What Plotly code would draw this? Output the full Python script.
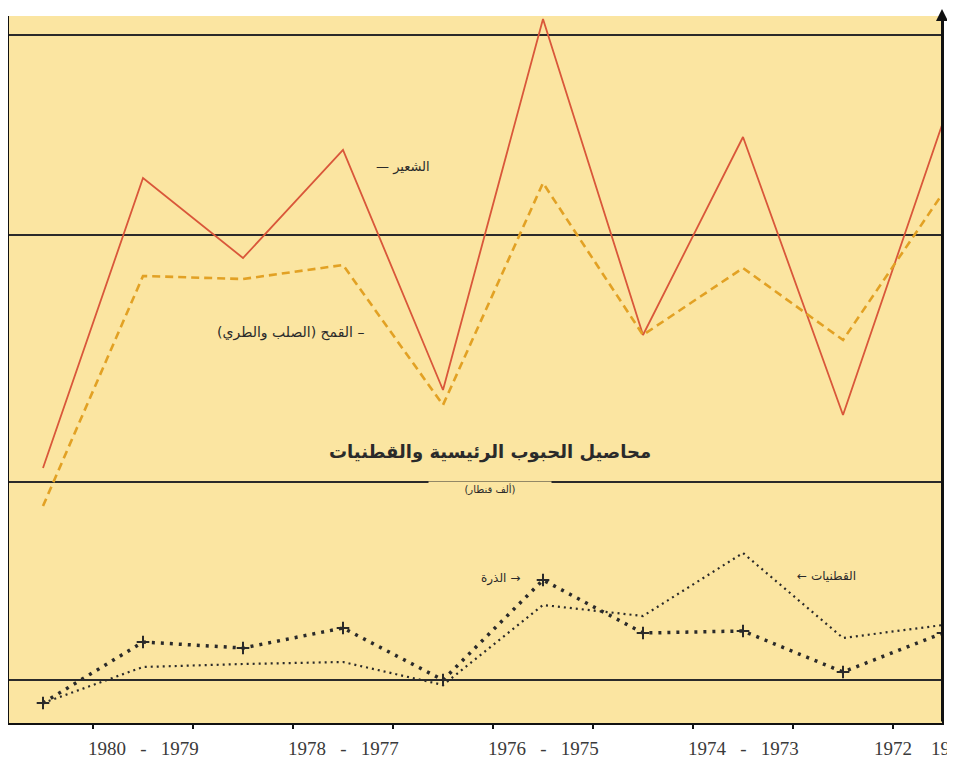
import plotly.graph_objects as go

# seasons, read right-to-left on the printed chart
SEASONS = ["1980-81", "1979-80", "1978-79", "1977-78", "1976-77",
           "1975-76", "1974-75", "1973-74", "1972-73", "1971-72"]
X = list(range(len(SEASONS)))

# production (thousand qintar, unlabelled scale)
BARLEY = [255, 545, 465, 573, 333, 704, 388, 586, 308, 601]
WHEAT = [217, 447, 444, 458, 318, 540, 388, 455, 383, 530]
CORN = [20, 81, 75, 95, 43, 143, 90, 92, 51, 90]
COTTON = [20, 56, 59, 61, 38, 118, 107, 170, 85, 98]

GRID_Y = [43, 241, 488, 688]
TICK_X = [0.5, 1.5, 2.5, 3.5, 4.5, 5.5, 6.5, 7.5, 8.5]
LABEL_X = [1, 3, 5, 7, 8.5]
SP = "\u00a0" * 3
LABEL_TEXT = [f"1980{SP}-{SP}1979", f"1978{SP}-{SP}1977", f"1976{SP}-{SP}1975",
              f"1974{SP}-{SP}1973", "1972"]

BG = "#FBE5A1"
INK = "#2a2a2a"
COL_BARLEY = "#D9573A"
COL_WHEAT = "#E2A124"
AR_FONT = "DejaVu Sans"
TICK_FONT = dict(family="Liberation Serif", size=19, color="#3a3a3a")

fig = go.Figure()
fig.add_trace(go.Scatter(x=X, y=BARLEY, mode="lines", name="الشعير",
                         line=dict(color=COL_BARLEY, width=1.8)))
fig.add_trace(go.Scatter(x=X, y=WHEAT, mode="lines", name="القمح",
                         line=dict(color=COL_WHEAT, width=2.6, dash="8px,5px")))
fig.add_trace(go.Scatter(x=X, y=COTTON, mode="lines", name="القطنيات",
                         line=dict(color=INK, width=2.2, dash="2px,4px")))
fig.add_trace(go.Scatter(x=X, y=CORN, mode="lines+markers", name="الذرة",
                         line=dict(color=INK, width=3.5, dash="3px,6px"),
                         marker=dict(symbol="cross-thin", size=9,
                                     line=dict(color=INK, width=2))))

notes = [
    ("— الشعير", 3.6, 556, 13, False),
    ("القمح (الصلب والطري) –", 2.47, 391, 14, False),
    ("محاصيل الحبوب الرئيسية والقطنيات", 4.47, 271, 18, True),
    ("الذرة →", 4.57, 145, 12, False),
    ("← القطنيات", 7.83, 147, 12, False),
]
for txt, x, y, size, bold in notes:
    fig.add_annotation(x=x, y=y, xref="x", yref="y", text=f"<b>{txt}</b>" if bold else txt,
                       showarrow=False, font=dict(family=AR_FONT, size=size, color=INK))

fig.add_annotation(x=4.47, y=234, xref="x", yref="y", text="(ألف قنطار)", showarrow=False,
                   width=120, bgcolor=BG, font=dict(family=AR_FONT, size=10, color=INK))

for x, txt in zip(LABEL_X, LABEL_TEXT):
    fig.add_annotation(x=x, y=-0.036, xref="x", yref="paper", text=txt, showarrow=False,
                       yanchor="middle", font=TICK_FONT)
# season label cut by the right edge in the original
fig.add_annotation(x=1.0, y=-0.036, xref="paper", yref="paper", text="19", showarrow=False,
                   xanchor="right", xshift=10, yanchor="middle", font=TICK_FONT)

# small tick dots to the right of the axis
for gy in GRID_Y:
    fig.add_annotation(x=1.0, y=gy, xref="paper", yref="y", text="·", showarrow=False,
                       xanchor="left", xshift=5, font=dict(size=18, color="#333"))

# upward arrow on the right-hand axis
fig.add_annotation(x=1, y=1.01, xref="paper", yref="paper", ax=0, ay=714,
                   axref="pixel", ayref="pixel", text="", showarrow=True,
                   arrowhead=2, arrowsize=1.2, arrowwidth=2, arrowcolor="#111")

fig.update_layout(
    width=947, height=756,
    margin=dict(l=1, r=13, t=8, b=41),
    plot_bgcolor=BG, paper_bgcolor="white",
    showlegend=False,
)
fig.update_xaxes(range=[-0.34, 8.99], tickvals=TICK_X, ticktext=[""] * len(TICK_X),
                 ticks="outside", ticklen=4, tickwidth=2, tickcolor="#111",
                 showgrid=False, zeroline=False, showline=True, linecolor="#111",
                 linewidth=2, fixedrange=True)
fig.update_yaxes(range=[0, 707], tickvals=GRID_Y, showticklabels=False, ticks="",
                 showgrid=True, gridcolor=INK, gridwidth=1.5, zeroline=False,
                 showline=True, mirror=True, linecolor="#111", linewidth=2)

fig.write_html("out.html")
